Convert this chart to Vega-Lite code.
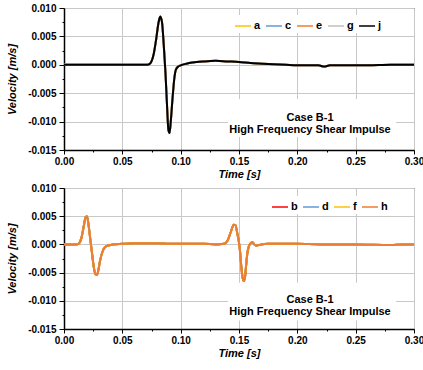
{
  "$schema": "https://vega.github.io/schema/vega-lite/v6.json",
  "padding": {"left": 6, "top": 2, "right": 2, "bottom": 2},
  "spacing": 2,
  "config": {
    "font": "Liberation Sans",
    "view": {"stroke": "#000", "strokeWidth": 1},
    "axis": {
      "labelFont": "Liberation Sans", "labelFontSize": 10, "labelFontWeight": "bold", "labelColor": "#000",
      "titleFont": "Liberation Sans", "titleFontSize": 11, "titleFontWeight": "bold", "titleFontStyle": "italic", "titleColor": "#000",
      "domainColor": "#000", "domainWidth": 1.5, "tickColor": "#000", "tickWidth": 1,
      "gridWidth": 1, "labelFlush": false, "labelOverlap": false
    },
    "legend": {"labelFont": "Liberation Sans", "labelFontSize": 11, "labelFontWeight": "bold", "labelColor": "#000"}
  },
  "vconcat": [
    {
      "width": 350, "height": 142,
      "layer": [
        {
          "data": {"values": [{}]},
          "mark": {"type": "rect", "fill": "white"},
          "encoding": {
            "x": {"datum": 0.1406, "type": "quantitative", "scale": {"domain": [0, 0.3]},
              "axis": {"grid": true, "labelOverlap": false, "labelFlush": false,
                "values": [0, 0.025, 0.05, 0.075, 0.1, 0.125, 0.15, 0.175, 0.2, 0.225, 0.25, 0.275, 0.3],
                "labelExpr": "round(datum.value * 1000) % 50 == 0 ? format(datum.value, '.2f') : ''",
                "gridColor": {"condition": {"test": "round(datum.value * 1000) % 50 == 0", "value": "#c8c8c8"}, "value": "transparent"},
                "tickSize": {"condition": {"test": "round(datum.value * 1000) % 50 == 0", "value": 4}, "value": 2},
                "labelPadding": 2, "titlePadding": 2}},
            "x2": {"datum": 0.2846},
            "y": {"datum": -0.006, "type": "quantitative", "scale": {"domain": [-0.015, 0.01]},
              "axis": {"grid": true, "labelOverlap": false,
                "values": [-0.015, -0.0125, -0.01, -0.0075, -0.005, -0.0025, 0, 0.0025, 0.005, 0.0075, 0.01],
                "labelExpr": "round(datum.value * 10000) % 50 == 0 ? (datum.value < 0 ? '-' : '') + format(abs(datum.value), '.3f') : ''",
                "gridColor": {"condition": {"test": "round(datum.value * 10000) % 50 == 0", "value": "#c8c8c8"}, "value": "transparent"},
                "tickSize": {"condition": {"test": "round(datum.value * 10000) % 50 == 0", "value": 5}, "value": 2},
                "labelPadding": 3, "titlePadding": 10}},
            "y2": {"datum": -0.0127}
          }
        },
        {
          "data": {"values": [{}]},
          "mark": {"type": "text", "text": ["Case B-1", "High Frequency Shear Impulse"], "font": "Liberation Sans", "fontSize": 11, "fontWeight": "bold", "lineHeight": 12, "align": "center", "baseline": "middle", "color": "#000"},
          "encoding": {
            "x": {"datum": 0.2109, "type": "quantitative", "scale": {"domain": [0, 0.3]},
              "axis": {"grid": true, "labelOverlap": false, "labelFlush": false,
                "values": [0, 0.025, 0.05, 0.075, 0.1, 0.125, 0.15, 0.175, 0.2, 0.225, 0.25, 0.275, 0.3],
                "labelExpr": "round(datum.value * 1000) % 50 == 0 ? format(datum.value, '.2f') : ''",
                "gridColor": {"condition": {"test": "round(datum.value * 1000) % 50 == 0", "value": "#c8c8c8"}, "value": "transparent"},
                "tickSize": {"condition": {"test": "round(datum.value * 1000) % 50 == 0", "value": 4}, "value": 2},
                "labelPadding": 2, "titlePadding": 2}},
            "y": {"datum": -0.0094, "type": "quantitative", "scale": {"domain": [-0.015, 0.01]},
              "axis": {"grid": true, "labelOverlap": false,
                "values": [-0.015, -0.0125, -0.01, -0.0075, -0.005, -0.0025, 0, 0.0025, 0.005, 0.0075, 0.01],
                "labelExpr": "round(datum.value * 10000) % 50 == 0 ? (datum.value < 0 ? '-' : '') + format(abs(datum.value), '.3f') : ''",
                "gridColor": {"condition": {"test": "round(datum.value * 10000) % 50 == 0", "value": "#c8c8c8"}, "value": "transparent"},
                "tickSize": {"condition": {"test": "round(datum.value * 10000) % 50 == 0", "value": 5}, "value": 2},
                "labelPadding": 3, "titlePadding": 10}}
          }
        },
        {
          "data": {"values": [
            {"t": 0, "a": 0, "c": 0, "e": 0, "g": 0, "j": 0},
            {"t": 0.07, "a": 0, "c": 0, "e": 0, "g": 0, "j": 0},
            {"t": 0.073, "a": 0.0001, "c": 0.0001, "e": 0.0001, "g": 0.0001, "j": 0.0001},
            {"t": 0.075, "a": 0.0006, "c": 0.0006, "e": 0.0006, "g": 0.0006, "j": 0.0006},
            {"t": 0.077, "a": 0.002, "c": 0.002, "e": 0.002, "g": 0.002, "j": 0.002},
            {"t": 0.079, "a": 0.0045, "c": 0.0045, "e": 0.0045, "g": 0.0045, "j": 0.0045},
            {"t": 0.081, "a": 0.0074, "c": 0.0074, "e": 0.0074, "g": 0.0074, "j": 0.0074},
            {"t": 0.0825, "a": 0.0085, "c": 0.0085, "e": 0.0085, "g": 0.0085, "j": 0.0085},
            {"t": 0.084, "a": 0.0075, "c": 0.0075, "e": 0.0075, "g": 0.0075, "j": 0.0075},
            {"t": 0.0855, "a": 0.0035, "c": 0.0035, "e": 0.0035, "g": 0.0035, "j": 0.0035},
            {"t": 0.087, "a": -0.0015, "c": -0.0015, "e": -0.0015, "g": -0.0015, "j": -0.0015},
            {"t": 0.0885, "a": -0.008, "c": -0.008, "e": -0.008, "g": -0.008, "j": -0.008},
            {"t": 0.0895, "a": -0.0115, "c": -0.0115, "e": -0.0115, "g": -0.0115, "j": -0.0115},
            {"t": 0.0905, "a": -0.012, "c": -0.012, "e": -0.012, "g": -0.012, "j": -0.012},
            {"t": 0.0915, "a": -0.01, "c": -0.01, "e": -0.01, "g": -0.01, "j": -0.01},
            {"t": 0.093, "a": -0.006, "c": -0.006, "e": -0.006, "g": -0.006, "j": -0.006},
            {"t": 0.0945, "a": -0.0025, "c": -0.0025, "e": -0.0025, "g": -0.0025, "j": -0.0025},
            {"t": 0.096, "a": -0.0008, "c": -0.0008, "e": -0.0008, "g": -0.0008, "j": -0.0008},
            {"t": 0.098, "a": -0.0003, "c": -0.0003, "e": -0.0003, "g": -0.0003, "j": -0.0003},
            {"t": 0.1, "a": -0.0001, "c": -0.0001, "e": -0.0001, "g": -0.0001, "j": -0.0001},
            {"t": 0.105, "a": 0.0002, "c": 0.0002, "e": 0.0002, "g": 0.0002, "j": 0.0002},
            {"t": 0.11, "a": 0.0004, "c": 0.0004, "e": 0.0004, "g": 0.0004, "j": 0.0004},
            {"t": 0.12, "a": 0.0006, "c": 0.0006, "e": 0.0006, "g": 0.0006, "j": 0.0006},
            {"t": 0.13, "a": 0.0007, "c": 0.0007, "e": 0.0007, "g": 0.0007, "j": 0.0007},
            {"t": 0.14, "a": 0.0006, "c": 0.0006, "e": 0.0006, "g": 0.0006, "j": 0.0006},
            {"t": 0.15, "a": 0.0005, "c": 0.0005, "e": 0.0005, "g": 0.0005, "j": 0.0005},
            {"t": 0.16, "a": 0.0003, "c": 0.0003, "e": 0.0003, "g": 0.0003, "j": 0.0003},
            {"t": 0.17, "a": 0.0002, "c": 0.0002, "e": 0.0002, "g": 0.0002, "j": 0.0002},
            {"t": 0.18, "a": 0.0001, "c": 0.0001, "e": 0.0001, "g": 0.0001, "j": 0.0001},
            {"t": 0.19, "a": 0, "c": 0, "e": 0, "g": 0, "j": 0},
            {"t": 0.2, "a": -0.0001, "c": -0.0001, "e": -0.0001, "g": -0.0001, "j": -0.0001},
            {"t": 0.21, "a": -0.0001, "c": -0.0001, "e": -0.0001, "g": -0.0001, "j": -0.0001},
            {"t": 0.218, "a": -0.0001, "c": -0.0001, "e": -0.0001, "g": -0.0001, "j": -0.0001},
            {"t": 0.223, "a": -0.0003, "c": -0.0003, "e": -0.0003, "g": -0.0003, "j": -0.0003},
            {"t": 0.228, "a": -0.0001, "c": -0.0001, "e": -0.0001, "g": -0.0001, "j": -0.0001},
            {"t": 0.24, "a": -0.0001, "c": -0.0001, "e": -0.0001, "g": -0.0001, "j": -0.0001},
            {"t": 0.26, "a": -0.0001, "c": -0.0001, "e": -0.0001, "g": -0.0001, "j": -0.0001},
            {"t": 0.28, "a": 0, "c": 0, "e": 0, "g": 0, "j": 0},
            {"t": 0.3, "a": 0, "c": 0, "e": 0, "g": 0, "j": 0}
          ]},
          "transform": [{"fold": ["a", "c", "e", "g", "j"], "as": ["series", "v"]}],
          "mark": {"type": "line", "strokeWidth": 2, "interpolate": "monotone"},
          "encoding": {
            "x": {"field": "t", "type": "quantitative", "title": "Time [s]",
              "scale": {"domain": [0, 0.3]},
              "axis": {"grid": true, "labelOverlap": false, "labelFlush": false,
                "values": [0, 0.025, 0.05, 0.075, 0.1, 0.125, 0.15, 0.175, 0.2, 0.225, 0.25, 0.275, 0.3],
                "labelExpr": "round(datum.value * 1000) % 50 == 0 ? format(datum.value, '.2f') : ''",
                "gridColor": {"condition": {"test": "round(datum.value * 1000) % 50 == 0", "value": "#c8c8c8"}, "value": "transparent"},
                "tickSize": {"condition": {"test": "round(datum.value * 1000) % 50 == 0", "value": 4}, "value": 2},
                "labelPadding": 2, "titlePadding": 2}
            },
            "y": {"field": "v", "type": "quantitative", "title": "Velocity [m/s]",
              "scale": {"domain": [-0.015, 0.01]},
              "axis": {"grid": true, "labelOverlap": false,
                "values": [-0.015, -0.0125, -0.01, -0.0075, -0.005, -0.0025, 0, 0.0025, 0.005, 0.0075, 0.01],
                "labelExpr": "round(datum.value * 10000) % 50 == 0 ? (datum.value < 0 ? '-' : '') + format(abs(datum.value), '.3f') : ''",
                "gridColor": {"condition": {"test": "round(datum.value * 10000) % 50 == 0", "value": "#c8c8c8"}, "value": "transparent"},
                "tickSize": {"condition": {"test": "round(datum.value * 10000) % 50 == 0", "value": 5}, "value": 2},
                "labelPadding": 3, "titlePadding": 10}
            },
            "color": {"field": "series", "type": "nominal",
              "scale": {"domain": ["a", "c", "e", "g", "j"], "range": ["#FFC000", "#5B9BD5", "#ED7D31", "#C0C0C0", "#000000"]},
              "legend": {"orient": "none", "legendX": 168, "legendY": 7, "direction": "horizontal", "title": null,
                "symbolType": "stroke", "symbolSize": 256, "symbolStrokeWidth": 1.5, "columnPadding": 2, "labelOffset": 2,
                "fillColor": "white", "padding": 2}
            }
          }
        }
      ]
    },
    {
      "width": 350, "height": 141,
      "layer": [
        {
          "data": {"values": [{}]},
          "mark": {"type": "rect", "fill": "white"},
          "encoding": {
            "x": {"datum": 0.1406, "type": "quantitative", "scale": {"domain": [0, 0.3]},
              "axis": {"grid": true, "labelOverlap": false, "labelFlush": false,
                "values": [0, 0.025, 0.05, 0.075, 0.1, 0.125, 0.15, 0.175, 0.2, 0.225, 0.25, 0.275, 0.3],
                "labelExpr": "round(datum.value * 1000) % 50 == 0 ? format(datum.value, '.2f') : ''",
                "gridColor": {"condition": {"test": "round(datum.value * 1000) % 50 == 0", "value": "#c8c8c8"}, "value": "transparent"},
                "tickSize": {"condition": {"test": "round(datum.value * 1000) % 50 == 0", "value": 4}, "value": 2},
                "labelPadding": 2, "titlePadding": 2}},
            "x2": {"datum": 0.2846},
            "y": {"datum": -0.0068, "type": "quantitative", "scale": {"domain": [-0.015, 0.01]},
              "axis": {"grid": true, "labelOverlap": false,
                "values": [-0.015, -0.0125, -0.01, -0.0075, -0.005, -0.0025, 0, 0.0025, 0.005, 0.0075, 0.01],
                "labelExpr": "round(datum.value * 10000) % 50 == 0 ? (datum.value < 0 ? '-' : '') + format(abs(datum.value), '.3f') : ''",
                "gridColor": {"condition": {"test": "round(datum.value * 10000) % 50 == 0", "value": "#c8c8c8"}, "value": "transparent"},
                "tickSize": {"condition": {"test": "round(datum.value * 10000) % 50 == 0", "value": 5}, "value": 2},
                "labelPadding": 3, "titlePadding": 10}},
            "y2": {"datum": -0.0135}
          }
        },
        {
          "data": {"values": [{}]},
          "mark": {"type": "text", "text": ["Case B-1", "High Frequency Shear Impulse"], "font": "Liberation Sans", "fontSize": 11, "fontWeight": "bold", "lineHeight": 12, "align": "center", "baseline": "middle", "color": "#000"},
          "encoding": {
            "x": {"datum": 0.2109, "type": "quantitative", "scale": {"domain": [0, 0.3]},
              "axis": {"grid": true, "labelOverlap": false, "labelFlush": false,
                "values": [0, 0.025, 0.05, 0.075, 0.1, 0.125, 0.15, 0.175, 0.2, 0.225, 0.25, 0.275, 0.3],
                "labelExpr": "round(datum.value * 1000) % 50 == 0 ? format(datum.value, '.2f') : ''",
                "gridColor": {"condition": {"test": "round(datum.value * 1000) % 50 == 0", "value": "#c8c8c8"}, "value": "transparent"},
                "tickSize": {"condition": {"test": "round(datum.value * 1000) % 50 == 0", "value": 4}, "value": 2},
                "labelPadding": 2, "titlePadding": 2}},
            "y": {"datum": -0.0098, "type": "quantitative", "scale": {"domain": [-0.015, 0.01]},
              "axis": {"grid": true, "labelOverlap": false,
                "values": [-0.015, -0.0125, -0.01, -0.0075, -0.005, -0.0025, 0, 0.0025, 0.005, 0.0075, 0.01],
                "labelExpr": "round(datum.value * 10000) % 50 == 0 ? (datum.value < 0 ? '-' : '') + format(abs(datum.value), '.3f') : ''",
                "gridColor": {"condition": {"test": "round(datum.value * 10000) % 50 == 0", "value": "#c8c8c8"}, "value": "transparent"},
                "tickSize": {"condition": {"test": "round(datum.value * 10000) % 50 == 0", "value": 5}, "value": 2},
                "labelPadding": 3, "titlePadding": 10}}
          }
        },
        {
          "data": {"values": [
            {"t": 0, "b": 0, "d": 0, "f": 0, "h": 0},
            {"t": 0.011, "b": 0, "d": 0, "f": 0, "h": 0},
            {"t": 0.013, "b": 0.0002, "d": 0.0002, "f": 0.0002, "h": 0.0002},
            {"t": 0.015, "b": 0.0012, "d": 0.0012, "f": 0.0012, "h": 0.0012},
            {"t": 0.017, "b": 0.0033, "d": 0.0033, "f": 0.0033, "h": 0.0033},
            {"t": 0.0185, "b": 0.0048, "d": 0.0048, "f": 0.0048, "h": 0.0048},
            {"t": 0.0197, "b": 0.005, "d": 0.005, "f": 0.005, "h": 0.005},
            {"t": 0.021, "b": 0.0035, "d": 0.0035, "f": 0.0035, "h": 0.0035},
            {"t": 0.0225, "b": 0.001, "d": 0.001, "f": 0.001, "h": 0.001},
            {"t": 0.024, "b": -0.0015, "d": -0.0015, "f": -0.0015, "h": -0.0015},
            {"t": 0.0255, "b": -0.004, "d": -0.004, "f": -0.004, "h": -0.004},
            {"t": 0.027, "b": -0.0053, "d": -0.0053, "f": -0.0053, "h": -0.0053},
            {"t": 0.0283, "b": -0.0054, "d": -0.0054, "f": -0.0054, "h": -0.0054},
            {"t": 0.0295, "b": -0.0045, "d": -0.0045, "f": -0.0045, "h": -0.0045},
            {"t": 0.031, "b": -0.0028, "d": -0.0028, "f": -0.0028, "h": -0.0028},
            {"t": 0.033, "b": -0.0013, "d": -0.0013, "f": -0.0013, "h": -0.0013},
            {"t": 0.035, "b": -0.0005, "d": -0.0005, "f": -0.0005, "h": -0.0005},
            {"t": 0.038, "b": -0.0002, "d": -0.0002, "f": -0.0002, "h": -0.0002},
            {"t": 0.042, "b": 0, "d": 0, "f": 0, "h": 0},
            {"t": 0.05, "b": 0.0001, "d": 0.0001, "f": 0.0001, "h": 0.0001},
            {"t": 0.06, "b": 0.0002, "d": 0.0002, "f": 0.0002, "h": 0.0002},
            {"t": 0.07, "b": 0.0002, "d": 0.0002, "f": 0.0002, "h": 0.0002},
            {"t": 0.08, "b": 0.0002, "d": 0.0002, "f": 0.0002, "h": 0.0002},
            {"t": 0.09, "b": 0.0001, "d": 0.0001, "f": 0.0001, "h": 0.0001},
            {"t": 0.1, "b": 0.0001, "d": 0.0001, "f": 0.0001, "h": 0.0001},
            {"t": 0.12, "b": 0.0001, "d": 0.0001, "f": 0.0001, "h": 0.0001},
            {"t": 0.13, "b": 0, "d": 0, "f": 0, "h": 0},
            {"t": 0.137, "b": 0.0001, "d": 0.0001, "f": 0.0001, "h": 0.0001},
            {"t": 0.14, "b": 0.0006, "d": 0.0006, "f": 0.0006, "h": 0.0006},
            {"t": 0.143, "b": 0.0022, "d": 0.0022, "f": 0.0022, "h": 0.0022},
            {"t": 0.1455, "b": 0.0035, "d": 0.0035, "f": 0.0035, "h": 0.0035},
            {"t": 0.147, "b": 0.0034, "d": 0.0034, "f": 0.0034, "h": 0.0034},
            {"t": 0.1485, "b": 0.002, "d": 0.002, "f": 0.002, "h": 0.002},
            {"t": 0.15, "b": 0.0003, "d": 0.0003, "f": 0.0003, "h": 0.0003},
            {"t": 0.151, "b": -0.0015, "d": -0.0015, "f": -0.0015, "h": -0.0015},
            {"t": 0.152, "b": -0.004, "d": -0.004, "f": -0.004, "h": -0.004},
            {"t": 0.153, "b": -0.0058, "d": -0.0058, "f": -0.0058, "h": -0.0058},
            {"t": 0.154, "b": -0.0065, "d": -0.0065, "f": -0.0065, "h": -0.0065},
            {"t": 0.155, "b": -0.006, "d": -0.006, "f": -0.006, "h": -0.006},
            {"t": 0.156, "b": -0.004, "d": -0.004, "f": -0.004, "h": -0.004},
            {"t": 0.157, "b": -0.0018, "d": -0.0018, "f": -0.0018, "h": -0.0018},
            {"t": 0.1585, "b": -0.0003, "d": -0.0003, "f": -0.0003, "h": -0.0003},
            {"t": 0.16, "b": 0.0002, "d": 0.0002, "f": 0.0002, "h": 0.0002},
            {"t": 0.1615, "b": 0.0004, "d": 0.0004, "f": 0.0004, "h": 0.0004},
            {"t": 0.163, "b": 0, "d": 0, "f": 0, "h": 0},
            {"t": 0.1645, "b": -0.0002, "d": -0.0002, "f": -0.0002, "h": -0.0002},
            {"t": 0.167, "b": -0.0001, "d": -0.0001, "f": -0.0001, "h": -0.0001},
            {"t": 0.175, "b": 0.0001, "d": 0.0001, "f": 0.0001, "h": 0.0001},
            {"t": 0.19, "b": 0.0001, "d": 0.0001, "f": 0.0001, "h": 0.0001},
            {"t": 0.2, "b": 0.0001, "d": 0.0001, "f": 0.0001, "h": 0.0001},
            {"t": 0.22, "b": 0, "d": 0, "f": 0, "h": 0},
            {"t": 0.25, "b": 0, "d": 0, "f": 0, "h": 0},
            {"t": 0.28, "b": -0.0001, "d": -0.0001, "f": -0.0001, "h": -0.0001},
            {"t": 0.29, "b": 0, "d": 0, "f": 0, "h": 0},
            {"t": 0.3, "b": 0, "d": 0, "f": 0, "h": 0}
          ]},
          "transform": [{"fold": ["b", "d", "f", "h"], "as": ["series", "v"]}],
          "mark": {"type": "line", "strokeWidth": 2, "interpolate": "monotone"},
          "encoding": {
            "x": {"field": "t", "type": "quantitative", "title": "Time [s]",
              "scale": {"domain": [0, 0.3]},
              "axis": {"grid": true, "labelOverlap": false, "labelFlush": false,
                "values": [0, 0.025, 0.05, 0.075, 0.1, 0.125, 0.15, 0.175, 0.2, 0.225, 0.25, 0.275, 0.3],
                "labelExpr": "round(datum.value * 1000) % 50 == 0 ? format(datum.value, '.2f') : ''",
                "gridColor": {"condition": {"test": "round(datum.value * 1000) % 50 == 0", "value": "#c8c8c8"}, "value": "transparent"},
                "tickSize": {"condition": {"test": "round(datum.value * 1000) % 50 == 0", "value": 4}, "value": 2},
                "labelPadding": 2, "titlePadding": 2}
            },
            "y": {"field": "v", "type": "quantitative", "title": "Velocity [m/s]",
              "scale": {"domain": [-0.015, 0.01]},
              "axis": {"grid": true, "labelOverlap": false,
                "values": [-0.015, -0.0125, -0.01, -0.0075, -0.005, -0.0025, 0, 0.0025, 0.005, 0.0075, 0.01],
                "labelExpr": "round(datum.value * 10000) % 50 == 0 ? (datum.value < 0 ? '-' : '') + format(abs(datum.value), '.3f') : ''",
                "gridColor": {"condition": {"test": "round(datum.value * 10000) % 50 == 0", "value": "#c8c8c8"}, "value": "transparent"},
                "tickSize": {"condition": {"test": "round(datum.value * 10000) % 50 == 0", "value": 5}, "value": 2},
                "labelPadding": 3, "titlePadding": 10}
            },
            "color": {"field": "series", "type": "nominal",
              "scale": {"domain": ["b", "d", "f", "h"], "range": ["#FF0000", "#5B9BD5", "#FFC000", "#ED7D31"]},
              "legend": {"orient": "none", "legendX": 205, "legendY": 8, "direction": "horizontal", "title": null,
                "symbolType": "stroke", "symbolSize": 256, "symbolStrokeWidth": 1.5, "columnPadding": 2, "labelOffset": 2,
                "fillColor": "white", "padding": 2}
            }
          }
        }
      ]
    }
  ],
  "resolve": {"scale": {"color": "independent"}}
}
